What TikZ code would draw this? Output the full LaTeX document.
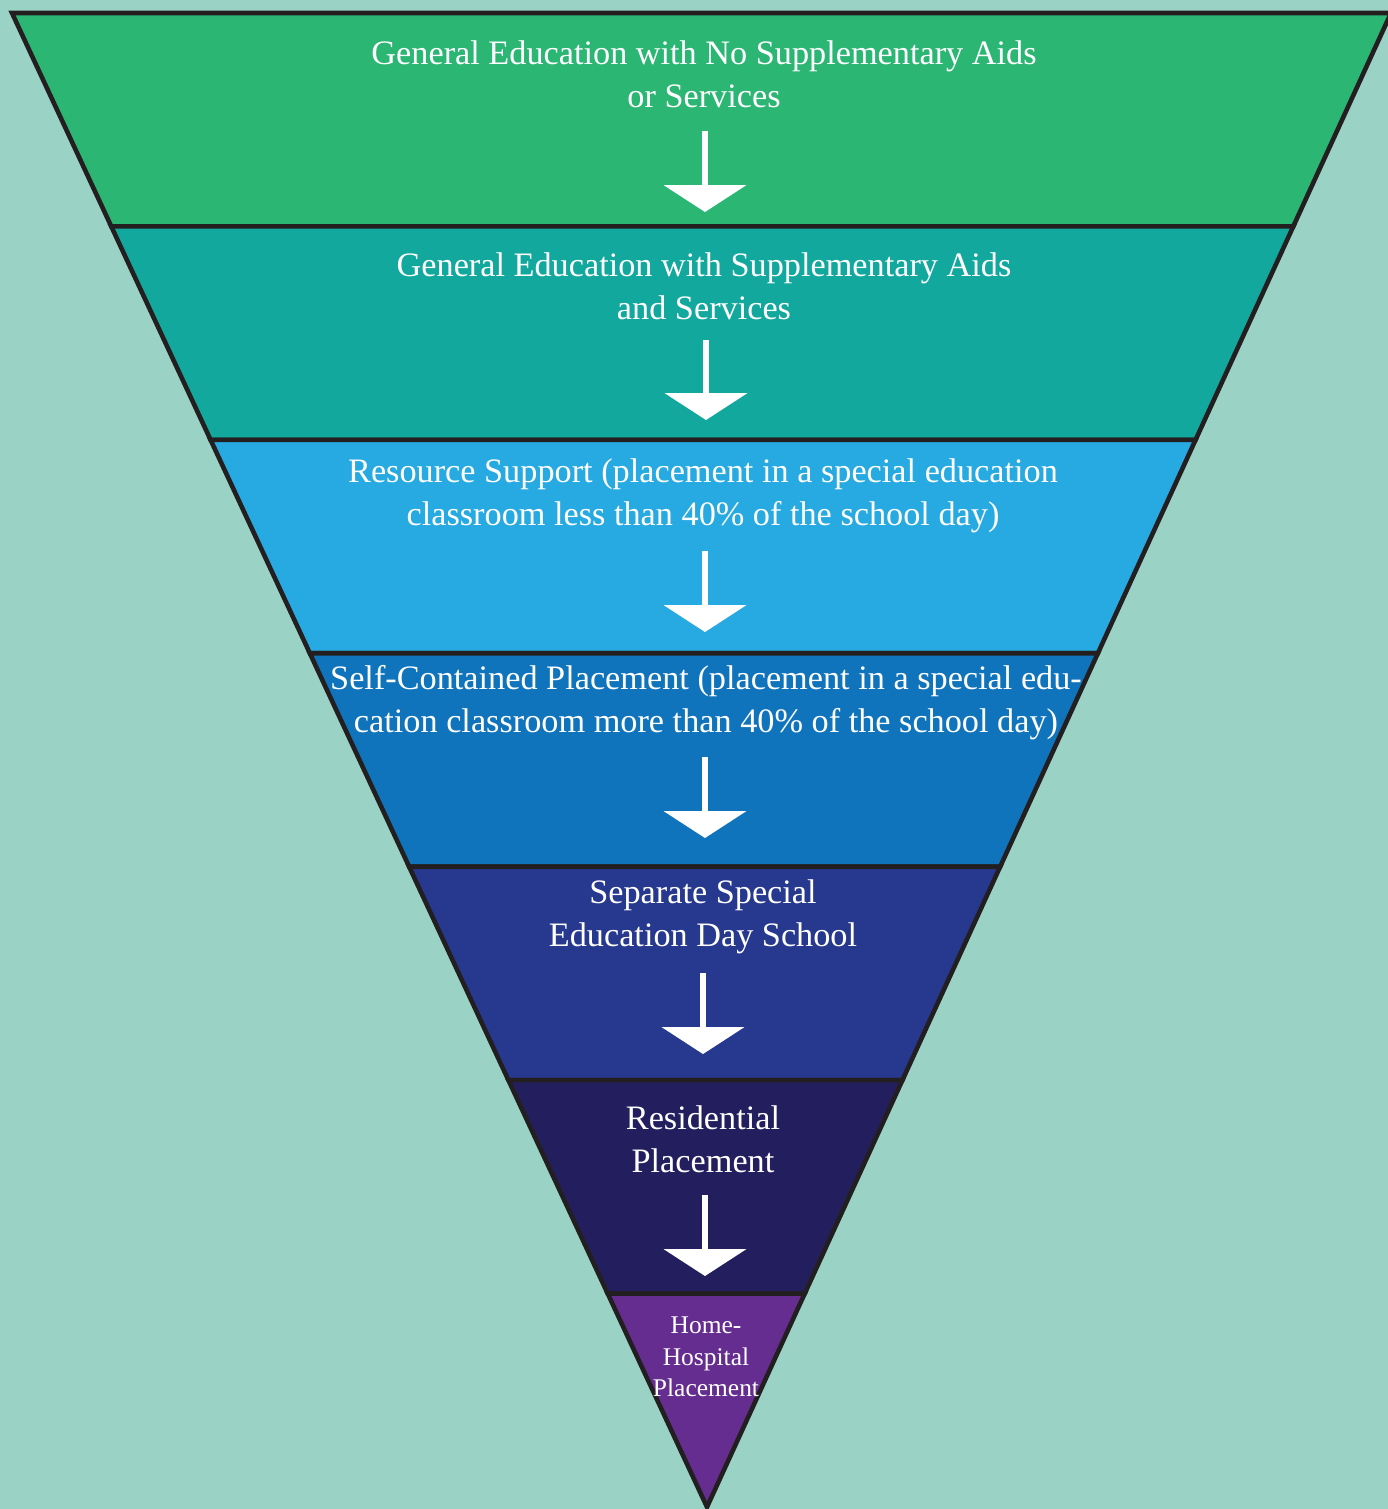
\documentclass[tikz,border=0pt]{standalone}
\usepackage{fontspec}
\setmainfont{Liberation Serif}
\usepackage{tikz}
\usetikzlibrary{arrows.meta,calc}
\definecolor{bgmint}{HTML}{9AD3C6}
\definecolor{edge}{HTML}{231F20}
\definecolor{lvA}{HTML}{2BB673}
\definecolor{lvB}{HTML}{12A89D}
\definecolor{lvC}{HTML}{27A9E1}
\definecolor{lvD}{HTML}{1074BC}
\definecolor{lvE}{HTML}{27388F}
\definecolor{lvF}{HTML}{231F5F}
\definecolor{lvG}{HTML}{662D91}

\begin{document}
\begin{tikzpicture}[
    x=0.02cm,y=-0.02cm,
    band/.style={draw=edge,line width=2.6pt,line join=miter},
    lbl/.style={align=center,text=white,font=\fontsize{19.5}{24.4}\selectfont,inner sep=0pt},
    small/.style={align=center,text=white,font=\fontsize{14.5}{18}\selectfont,inner sep=0pt},
    down/.style={draw=white,line width=3.4pt,-{Triangle[width=46.5pt,length=15.3pt]}}]
    \fill[bgmint] (0,0) rectangle (1388,1509);
    \useasboundingbox (0,0) rectangle (1388,1509);
    % corners of the funnel
    \coordinate (TL) at (12,13);
    \coordinate (TR) at (1391,13);
    \coordinate (A) at (707,1507);
    \foreach \k in {0,...,6} {
      \coordinate (L\k) at ($(TL)!\k/7!(A)$);
      \coordinate (R\k) at ($(TR)!\k/7!(A)$);
    }
    % bands, top to bottom
    \filldraw[band,fill=lvA] (L0) -- (R0) -- (R1) -- (L1) -- cycle;
    \filldraw[band,fill=lvB] (L1) -- (R1) -- (R2) -- (L2) -- cycle;
    \filldraw[band,fill=lvC] (L2) -- (R2) -- (R3) -- (L3) -- cycle;
    \filldraw[band,fill=lvD] (L3) -- (R3) -- (R4) -- (L4) -- cycle;
    \filldraw[band,fill=lvE] (L4) -- (R4) -- (R5) -- (L5) -- cycle;
    \filldraw[band,fill=lvF] (L5) -- (R5) -- (R6) -- (L6) -- cycle;
    \filldraw[band,fill=lvG] (L6) -- (R6) -- (A) -- cycle;
    % labels
    \node[lbl] (gen) at (704,74) {General Education with No Supplementary Aids\\or Services};
    \node[lbl] (sup) at (704,286) {General Education with Supplementary Aids\\and Services};
    \node[lbl] (res) at (703,496) {Resource Support (placement in a special education\\classroom less than 40\% of the school day)};
    \node[lbl] (self) at (706,703) {Self-Contained Placement (placement in a special edu-\\cation classroom more than 40\% of the school day)};
    \node[lbl] (sep) at (703,917) {Separate Special\\Education Day School};
    \node[lbl] (resid) at (703,1139) {Residential\\Placement};
    \node[small] (home) at (706,1357) {Home-\\Hospital\\Placement};
    % arrows between levels
    \coordinate (a1) at (705,131); \coordinate (b1) at (705,212);
    \coordinate (a2) at (706,340); \coordinate (b2) at (706,420);
    \coordinate (a3) at (705,551); \coordinate (b3) at (705,632);
    \coordinate (a4) at (705,757); \coordinate (b4) at (705,838);
    \coordinate (a5) at (703,973); \coordinate (b5) at (703,1054);
    \coordinate (a6) at (705,1195); \coordinate (b6) at (705,1276);
    \draw[down] (a1) -- (b1);
    \draw[down] (a2) -- (b2);
    \draw[down] (a3) -- (b3);
    \draw[down] (a4) -- (b4);
    \draw[down] (a5) -- (b5);
    \draw[down] (a6) -- (b6);
\end{tikzpicture}
\end{document}
